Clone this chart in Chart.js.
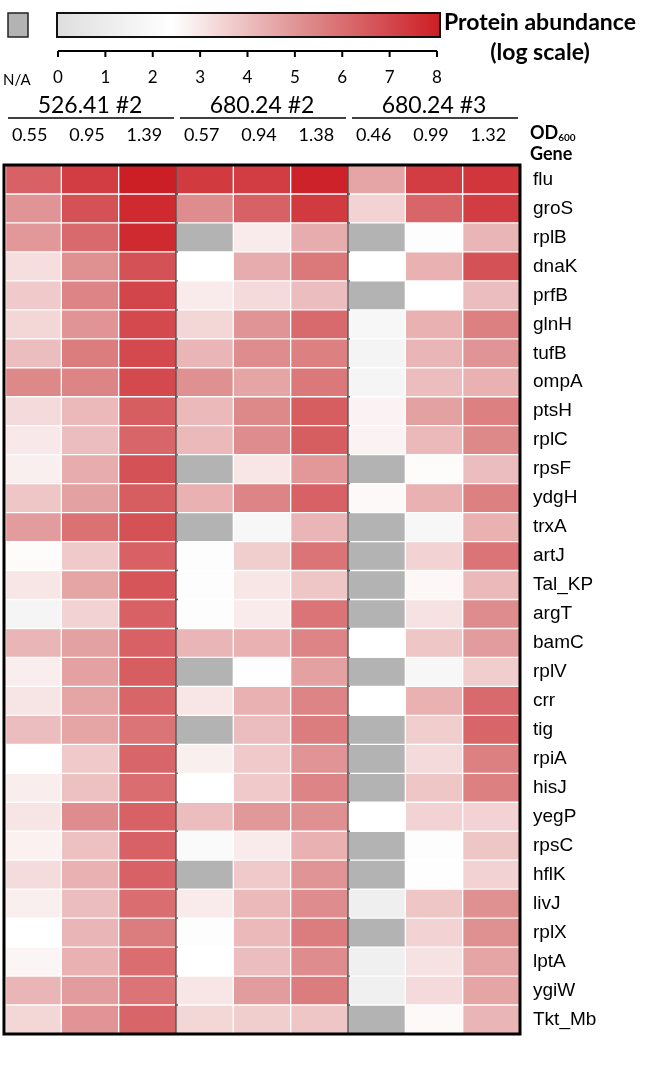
<!DOCTYPE html>
<html>
<head>
<meta charset="utf-8">
<title>Protein abundance heatmap</title>
<script src="https://cdn.jsdelivr.net/npm/chart.js@4/dist/chart.umd.min.js"></script>
<style>
  html, body { margin: 0; padding: 0; background: #fff; }
</style>
</head>
<body>
<canvas id="heat-canvas" width="650" height="1071"></canvas>
<script>
const genes = ["flu", "groS", "rplB", "dnaK", "prfB", "glnH", "tufB", "ompA", "ptsH", "rplC",
  "rpsF", "ydgH", "trxA", "artJ", "Tal_KP", "argT", "bamC", "rplV", "crr", "tig",
  "rpiA", "hisJ", "yegP", "rpsC", "hflK", "livJ", "rplX", "lptA", "ygiW", "Tkt_Mb"];
const strains = ["526.41 #2", "680.24 #2", "680.24 #3"];
const od_labels = ["0.55", "0.95", "1.39", "0.57", "0.94", "1.38", "0.46", "0.99", "1.32"];
const scale_ticks = [0, 1, 2, 3, 4, 5, 6, 7, 8];

// log abundance per sample, same order as genes; null = N/A
const s526_2_055 = [6.3, 5.0, 4.9, 3.2, 3.7, 3.4, 4.0, 5.3, 3.3, 2.95, 2.8, 3.8, 4.8, 2.5, 3.0, 1.7, 4.2, 2.85, 3.05, 4.0, 2.4, 2.85, 3.05, 2.75, 3.25, 2.8, 2.4, 2.65, 4.2, 3.4];
const s526_2_095 = [7.2, 6.7, 6.1, 5.1, 5.4, 5.0, 5.6, 5.4, 4.1, 4.0, 4.4, 4.7, 5.9, 3.7, 4.6, 3.5, 4.7, 4.7, 4.6, 4.6, 3.7, 3.9, 5.2, 3.9, 4.3, 4.0, 4.2, 4.3, 4.8, 5.0];
const s526_2_139 = [8.0, 7.7, 7.7, 6.7, 7.0, 6.9, 6.9, 6.9, 6.4, 6.2, 6.7, 6.4, 6.7, 6.3, 6.6, 6.3, 6.3, 6.4, 6.2, 5.8, 6.2, 6.0, 6.3, 6.3, 6.3, 6.0, 5.6, 6.0, 5.8, 6.2];
const s680_2_057 = [7.3, 5.2, null, 2.4, 2.9, 3.4, 4.2, 5.1, 4.1, 4.1, null, 4.3, null, 2.45, 2.45, 2.45, 4.2, null, 3.0, null, 2.8, 2.4, 4.0, 2.0, null, 2.9, 2.45, 2.4, 3.0, 3.4];
const s680_2_094 = [7.2, 6.3, 2.9, 4.4, 3.3, 5.0, 5.2, 4.6, 5.3, 5.2, 3.0, 5.4, 1.8, 3.6, 3.0, 2.9, 4.3, 2.35, 4.3, 4.0, 3.7, 3.7, 4.9, 2.9, 3.7, 4.1, 4.1, 4.0, 4.8, 3.6];
const s680_2_138 = [7.9, 7.3, 4.4, 5.7, 4.0, 6.1, 5.5, 5.7, 6.4, 6.4, 4.9, 6.3, 4.2, 5.8, 3.8, 5.8, 5.4, 4.7, 5.4, 5.6, 5.0, 5.4, 5.1, 4.3, 5.0, 5.2, 5.6, 5.2, 5.6, 3.8];
const s680_3_046 = [4.6, 3.5, null, 2.4, null, 1.8, 1.6, 1.7, 2.7, 2.7, null, 2.55, null, null, null, null, 2.4, null, 2.4, null, null, null, 2.4, null, null, 1.2, null, 1.3, 1.3, null];
const s680_3_099 = [7.2, 6.2, 2.45, 4.3, 2.4, 4.3, 4.2, 4.0, 4.7, 4.1, 2.5, 4.3, 1.8, 3.5, 2.6, 3.1, 3.8, 1.8, 4.3, 3.6, 3.3, 3.8, 3.5, 2.45, 2.3, 3.8, 3.5, 3.1, 3.3, 2.55];
const s680_3_132 = [7.4, 7.2, 4.2, 6.7, 4.0, 5.5, 5.0, 4.3, 5.5, 5.3, 4.0, 5.5, 4.3, 5.8, 4.1, 5.2, 4.8, 3.6, 6.1, 6.2, 5.5, 5.5, 3.5, 3.8, 3.5, 5.1, 5.1, 4.6, 4.6, 4.2];

const samples = [s526_2_055, s526_2_095, s526_2_139, s680_2_057, s680_2_094, s680_2_138, s680_3_046, s680_3_099, s680_3_132];

const na_color = "#b3b3b3";
const color_stops = [
  [0, [222, 222, 222]],
  [2.4, [255, 255, 255]],
  [5.2, [222, 140, 141]],
  [8, [204, 30, 37]],
];
const rgb = (c) => `rgb(${c.map(Math.round).join(",")})`;

const cellColor = (v) => {
  if (v === null) return na_color;
  for (let i = 1; i < color_stops.length; i++) {
    const [v0, c0] = color_stops[i - 1];
    const [v1, c1] = color_stops[i];
    if (v <= v1) {
      const t = Math.max(0, (v - v0) / (v1 - v0));
      return rgb(c0.map((c, k) => c + (c1[k] - c) * t));
    }
  }
  return rgb(color_stops[color_stops.length - 1][1]);
};

const header_font = "Lato, 'Open Sans', sans-serif";

const headerPlugin = {
  id: "header",
  afterDraw(chart) {
    const ctx = chart.ctx;
    const x = chart.scales.x;
    const area = chart.chartArea;
    ctx.save();

    // N/A swatch
    ctx.fillStyle = na_color;
    ctx.fillRect(8, 13, 20, 24);
    ctx.strokeStyle = "#222";
    ctx.lineWidth = 1.5;
    ctx.strokeRect(8, 13, 20, 24);

    // colour bar
    const bar_left = 57, bar_right = 440;
    const grad = ctx.createLinearGradient(bar_left, 0, bar_right, 0);
    color_stops.forEach(([v, c]) => grad.addColorStop(v / 8, rgb(c)));
    ctx.fillStyle = grad;
    ctx.fillRect(bar_left, 13, bar_right - bar_left, 24);
    ctx.strokeStyle = "#111";
    ctx.lineWidth = 2;
    ctx.strokeRect(bar_left, 13, bar_right - bar_left, 24);

    // colour bar axis
    const tx = (v) => 58 + v * (437 - 58) / 8;
    ctx.strokeStyle = "#000";
    ctx.lineWidth = 2;
    ctx.beginPath();
    ctx.moveTo(tx(0), 51);
    ctx.lineTo(tx(8), 51);
    scale_ticks.forEach((v) => {
      ctx.moveTo(tx(v), 51);
      ctx.lineTo(tx(v), 57);
    });
    ctx.stroke();

    ctx.fillStyle = "#000";
    ctx.textBaseline = "middle";
    ctx.textAlign = "center";
    ctx.font = `17px ${header_font}`;
    scale_ticks.forEach((v) => ctx.fillText(String(v), tx(v), 78));
    ctx.textAlign = "left";
    ctx.font = `15px ${header_font}`;
    ctx.fillText("N/A", 3, 80);

    ctx.font = `bold 23px ${header_font}`;
    ctx.fillText("Protein abundance", 444, 23);
    ctx.textAlign = "center";
    ctx.fillText("(log scale)", 540, 53);

    // strain headers
    ctx.font = `23px ${header_font}`;
    strains.forEach((s, g) => {
      const left = x.getPixelForValue(g * 3);
      const right = x.getPixelForValue(g * 3 + 3);
      ctx.fillText(s, (left + right) / 2, 106);
      ctx.beginPath();
      ctx.lineWidth = 1.5;
      ctx.moveTo(left + 4, 118);
      ctx.lineTo(right - 2, 118);
      ctx.stroke();
    });

    ctx.font = `18px ${header_font}`;
    od_labels.forEach((od, i) => ctx.fillText(od, x.getPixelForValue(i + 0.5) - 3, 135));

    ctx.textAlign = "left";
    ctx.font = `bold 18px ${header_font}`;
    ctx.fillText("OD", 530, 133);
    const od_w = ctx.measureText("OD").width;
    ctx.font = `bold 10px ${header_font}`;
    ctx.fillText("600", 530 + od_w, 138);
    ctx.font = `bold 18px ${header_font}`;
    ctx.fillText("Gene", 530, 154);

    // heatmap frame
    ctx.lineWidth = 3;
    ctx.strokeStyle = "#000";
    ctx.strokeRect(area.left, area.top, area.right - area.left, area.bottom - area.top);
    ctx.restore();
  },
};

const buildDatasets = () =>
  samples.map((vals, i) => ({
    label: od_labels[i],
    data: vals.map(() => 1),
    backgroundColor: vals.map(cellColor),
    borderColor: "rgba(255,255,255,0.3)",
    borderWidth: 1,
    borderSkipped: false,
    barPercentage: 1,
    categoryPercentage: 1,
  }));

new Chart(document.getElementById("heat-canvas"), {
  type: "bar",
  data: {
    labels: genes,
    datasets: buildDatasets(),
  },
  options: {
    responsive: false,
    animation: false,
    indexAxis: "y",
    layout: {
      padding: { top: 165, bottom: 37, left: 4, right: 0 },
    },
    plugins: {
      legend: { display: false },
      tooltip: { enabled: false },
    },
    scales: {
      x: {
        type: "linear",
        min: 0,
        max: 9,
        stacked: true,
        position: "top",
        z: 1,
        afterFit: (axis) => {
          axis.height = 0;
        },
        border: { display: false },
        ticks: { display: false, stepSize: 1 },
        grid: {
          drawTicks: false,
          lineWidth: 3,
          color: ({ tick }) =>
            tick && (tick.value === 3 || tick.value === 6) ? "#000" : "rgba(0,0,0,0)",
        },
      },
      y: {
        stacked: true,
        position: "right",
        afterFit: (axis) => {
          axis.width = 130;
        },
        border: { display: false },
        grid: { display: false, drawTicks: false },
        ticks: {
          color: "#000",
          padding: 13,
          font: { family: "'Liberation Sans', Arial, sans-serif", size: 19 },
        },
      },
    },
  },
  plugins: [headerPlugin],
});
</script>
</body>
</html>
